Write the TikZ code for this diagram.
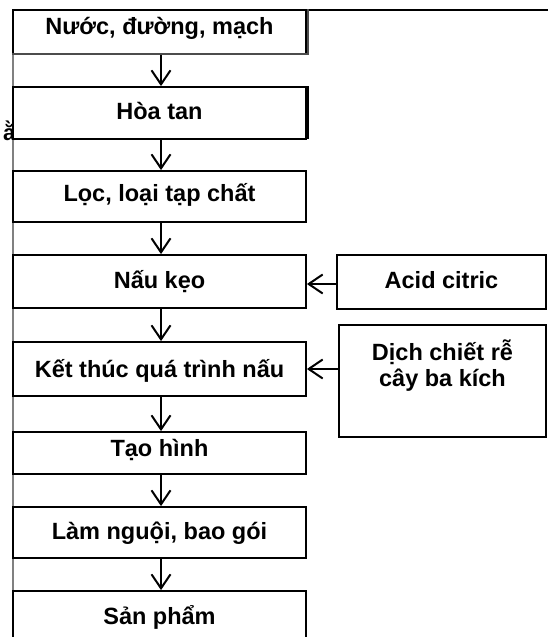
\documentclass[tikz,border=0pt]{standalone}
\usepackage{fontspec}
\setmainfont{Liberation Sans}
\usetikzlibrary{arrows.meta}
\begin{document}
\begin{tikzpicture}[x=1pt,y=-1pt,
  box/.style={draw=black,line width=1.8pt,minimum width=293pt,inner sep=0pt},
  sidebox/.style={draw=black,line width=1.8pt,inner sep=0pt},
  txt/.style={inner sep=0pt,anchor=base,font=\fontsize{23.5}{26}\selectfont\bfseries},
  flow/.style={line width=2pt,-{Straight Barb[length=14pt,width=19pt,line width=2pt]}}]
\useasboundingbox (0,0) rectangle (548,637);
\clip (0,0) rectangle (548,637);
\fill[white] (0,0) rectangle (548,637);
% page frame lines
\coordinate (tl) at (13,10);
\coordinate (tr) at (548,10);
\coordinate (bl) at (13,640);
\draw[line width=1.5pt] (tl) -- (tr);
% stray glyph at left
\node[inner sep=0pt,font=\fontsize{22}{24}\selectfont\bfseries,anchor=base east] (stray) at (15.5,140) {ằ};
\draw[line width=1.5pt,gray] (tl) -- (bl);
% main boxes
\node[box,minimum height=44pt] (b1) at (159.5,32) {};
\node[box,minimum height=52pt,fill=white] (b2) at (159.5,113) {};
\node[box,minimum height=51pt] (b3) at (159.5,196.5) {};
\node[box,minimum height=53pt] (b4) at (159.5,281.5) {};
\node[box,minimum height=54pt] (b5) at (159.5,369) {};
\node[box,minimum height=42pt] (b6) at (159.5,453) {};
\node[box,minimum height=51pt] (b7) at (159.5,532.5) {};
\node[box,minimum height=80pt] (b8) at (159.5,631) {};
% shadow edges
\draw[line width=1.2pt,black!70] ([xshift=1pt]b1.north east) -- ([xshift=1pt,yshift=1pt]b1.south east) -- ([yshift=1pt]b1.south west);
\draw[line width=1.5pt] ([xshift=1.2pt]b2.north east) -- ([xshift=1.2pt,yshift=1.2pt]b2.south east) -- ([yshift=1.2pt]b2.south west);
% texts
\node[txt] (t1) at (159.5,34.5) {Nước, đường, mạch};
\node[txt] (t2) at (159.5,119) {Hòa tan};
\node[txt] (t3) at (159.5,201) {Lọc, loại tạp chất};
\node[txt] (t4) at (159.5,288) {Nấu kẹo};
\node[txt] (t5) at (159.5,377) {Kết thúc quá trình nấu};
\node[txt] (t6) at (159.5,456) {Tạo hình};
\node[txt] (t7) at (159.5,539) {Làm nguội, bao gói};
\node[txt] (t8) at (159.5,624) {Sản phẩm};
% side boxes
\node[sidebox,minimum width=209pt,minimum height=54pt] (s1) at (441.5,282) {};
\node[txt] (ts1) at (441.5,288) {Acid citric};
\node[sidebox,minimum width=207pt,minimum height=112pt] (s2) at (442.5,381) {};
\node[txt] (ts2a) at (442.5,360) {Dịch chiết rễ};
\node[txt] (ts2b) at (442.5,386) {cây ba kích};
% arrows
\foreach \a/\b in {b1/b2,b2/b3,b3/b4,b4/b5,b5/b6,b6/b7,b7/b8}
  \draw[flow] ([xshift=1.5pt]\a.south) -- ([xshift=1.5pt]\b.north);
\draw[flow] (s1.west |- 0,284) -- (b4.east |- 0,284);
\draw[flow] (s2.west |- 0,369) -- (b5.east |- 0,369);
\end{tikzpicture}
\end{document}
